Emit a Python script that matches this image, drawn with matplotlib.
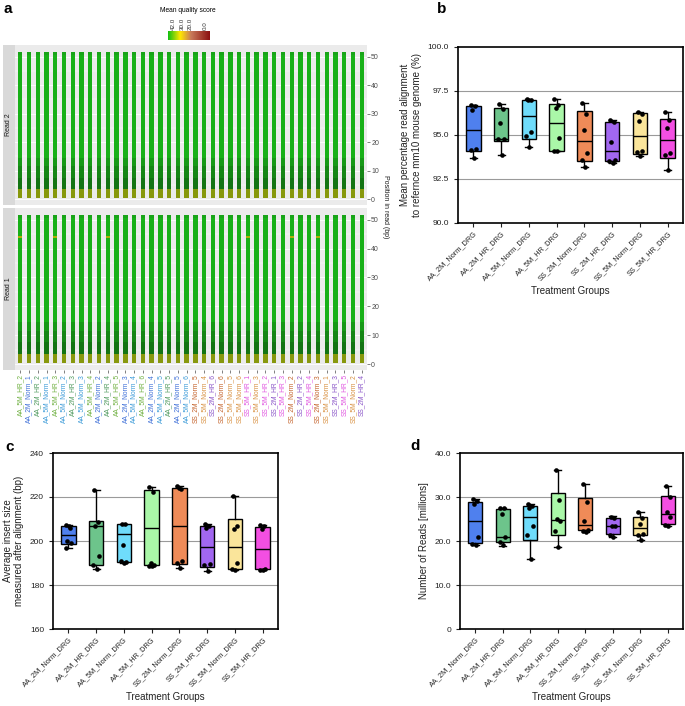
import numpy as np
import matplotlib
matplotlib.use("Agg")
import matplotlib.pyplot as plt
from matplotlib.colors import LinearSegmentedColormap

plt.rcParams['font.family'] = ['Liberation Sans', 'DejaVu Sans']

# --- data ---
groups = ["AA_2M_Norm_DRG", "AA_2M_HR_DRG", "AA_5M_Norm_DRG", "AA_5M_HR_DRG",
          "SS_2M_Norm_DRG", "SS_2M_HR_DRG", "SS_5M_Norm_DRG", "SS_5M_HR_DRG"]
box_colors = ["#4f80ee", "#6dc48b", "#6fdcfb", "#aaf7a8",
              "#ef8b58", "#a267f0", "#fae59b", "#f34fe2"]
label_colors = {"AA_2M_Norm": "#3e6fd8", "AA_2M_HR": "#4f9a5e", "AA_5M_Norm": "#3a9ad8",
                "AA_5M_HR": "#6fb040", "SS_2M_Norm": "#c4622a", "SS_2M_HR": "#8a55c8",
                "SS_5M_Norm": "#d89040", "SS_5M_HR": "#e055e0"}

samples = ["AA_5M_HR_2", "AA_2M_Norm_1", "AA_2M_HR_2", "AA_5M_Norm_1", "AA_5M_HR_3",
           "AA_5M_Norm_2", "AA_2M_HR_3", "AA_5M_Norm_3", "AA_5M_HR_4", "AA_2M_Norm_2",
           "AA_2M_HR_4", "AA_5M_HR_5", "AA_2M_Norm_3", "AA_5M_Norm_4", "AA_5M_HR_6",
           "AA_2M_Norm_4", "AA_5M_Norm_5", "AA_2M_HR_5", "AA_2M_Norm_5", "AA_5M_Norm_6",
           "SS_2M_Norm_5", "SS_5M_Norm_4", "SS_2M_HR_6", "SS_2M_Norm_6", "SS_5M_Norm_5",
           "SS_5M_Norm_6", "SS_5M_HR_1", "SS_5M_Norm_3", "SS_5M_HR_2", "SS_2M_HR_1",
           "SS_5M_HR_3", "SS_2M_Norm_2", "SS_2M_HR_2", "SS_5M_HR_4", "SS_2M_Norm_3",
           "SS_5M_Norm_1", "SS_2M_HR_3", "SS_5M_HR_5", "SS_5M_Norm_2", "SS_2M_HR_4"]

# mean quality per position (1..51)
read2_quality = [33.0, 33.0, 33.0, 35.5, 35.5, 35.5, 35.5, 36.5, 36.5, 36.5,
                 36.5, 38.0, 38.0, 38.0, 40.0, 40.0, 40.0, 40.0, 40.0, 40.0,
                 40.0, 40.0, 40.0, 40.0, 40.0, 40.0, 40.0, 40.0, 40.0, 40.0,
                 40.0, 40.0, 40.0, 40.0, 40.0, 40.0, 40.0, 40.0, 40.0, 40.0,
                 40.0, 40.0, 40.0, 40.0, 40.0, 40.0, 40.0, 40.0, 40.0, 40.0, 39.0]
read1_quality = [33.0, 33.0, 33.0, 35.5, 35.5, 35.5, 35.5, 36.5, 36.5, 36.5,
                 36.5, 38.0, 38.0, 38.0, 40.0, 40.0, 40.0, 40.0, 40.0, 40.0,
                 40.0, 40.0, 40.0, 40.0, 40.0, 40.0, 40.0, 40.0, 40.0, 40.0,
                 40.0, 40.0, 40.0, 40.0, 40.0, 40.0, 40.0, 40.0, 40.0, 40.0,
                 40.0, 40.0, 40.0, 40.0, 40.0, 40.0, 40.0, 40.0, 40.0, 40.0, 39.0]
read1_dip_samples = [0, 4, 10, 26, 31, 34]
read1_dip_position = 44
read1_dip_quality = 32.0

# panel b: alignment %
b_q1 = [94.07, 94.68, 94.77, 94.11, 93.50, 93.54, 93.94, 93.67]
b_med = [95.30, 94.78, 96.06, 95.66, 94.64, 94.11, 94.94, 94.70]
b_q3 = [96.63, 96.52, 97.00, 96.78, 96.36, 95.74, 96.25, 95.93]
b_lo = [93.69, 93.89, 94.30, 94.11, 93.18, 93.39, 93.79, 92.99]
b_hi = [96.70, 96.75, 97.05, 97.05, 96.82, 95.83, 96.33, 96.33]
b_points = [[96.70, 96.63, 96.40, 94.20, 94.17, 93.69],
            [96.75, 96.50, 95.70, 94.80, 94.78, 93.89],
            [97.05, 97.00, 96.98, 95.19, 94.92, 94.30],
            [97.05, 96.72, 96.53, 94.83, 94.11, 94.11],
            [96.82, 96.21, 95.30, 93.98, 93.60, 93.18],
            [95.83, 95.72, 94.60, 93.60, 93.50, 93.39],
            [96.33, 96.21, 95.80, 94.07, 94.02, 93.79],
            [96.33, 95.83, 95.42, 94.00, 93.88, 92.99]]

# panel c: insert size
c_q1 = [198.5, 188.9, 190.5, 189.1, 189.5, 188.3, 187.4, 187.3]
c_med = [202.7, 206.8, 203.0, 206.1, 207.0, 197.4, 197.4, 196.5]
c_q3 = [207.0, 209.2, 207.9, 223.0, 224.1, 206.7, 210.0, 206.4]
c_lo = [196.7, 187.3, 190.0, 188.5, 187.7, 186.2, 186.7, 187.0]
c_hi = [207.3, 223.3, 207.9, 224.4, 224.8, 207.7, 220.6, 207.3]
c_points = [[207.3, 205.9, 199.8, 199.1, 196.7, 207.0],
            [223.3, 208.6, 207.0, 193.0, 188.9, 187.4],
            [207.9, 207.9, 198.3, 190.3, 190.8, 190.0],
            [224.4, 222.3, 190.0, 189.1, 188.8, 188.5],
            [224.8, 223.6, 224.1, 191.1, 190.0, 187.7],
            [207.7, 207.0, 205.9, 189.4, 188.9, 186.2],
            [220.6, 206.7, 205.3, 190.0, 187.4, 186.7],
            [207.3, 206.8, 205.6, 187.3, 187.0, 187.0]]

# panel d: reads (millions)
d_q1 = [19.6, 19.8, 20.2, 21.4, 22.4, 21.6, 21.4, 23.9]
d_med = [24.5, 20.8, 25.5, 24.8, 23.6, 23.5, 22.9, 26.1]
d_q3 = [28.8, 27.3, 27.9, 30.9, 29.7, 25.2, 25.5, 30.3]
d_lo = [19.1, 18.8, 15.9, 18.7, 22.1, 21.0, 20.3, 23.5]
d_hi = [29.6, 27.6, 28.5, 36.1, 32.9, 25.6, 26.5, 32.5]
d_points = [[29.6, 29.0, 28.3, 20.8, 19.4, 19.1],
            [27.6, 27.4, 26.1, 20.8, 19.8, 19.0],
            [28.5, 28.0, 27.4, 23.5, 21.4, 15.9],
            [36.1, 29.3, 25.0, 24.5, 22.2, 18.7],
            [32.9, 28.9, 24.5, 22.4, 22.3, 22.1],
            [25.5, 25.3, 23.5, 23.3, 21.4, 21.0],
            [26.5, 25.3, 23.9, 21.7, 21.4, 20.3],
            [32.5, 30.1, 26.7, 25.4, 23.6, 23.5]]

W, H = 685, 706
fig = plt.figure(figsize=(W / 100, H / 100), dpi=100)


def px_axes(x0, y0, x1, y1):
    return fig.add_axes([x0 / W, 1 - y1 / H, (x1 - x0) / W, (y1 - y0) / H])


# --- panel a ---
qual_cmap = LinearSegmentedColormap.from_list("qual", [
    (0.0, "#7a0d0d"), (20 / 42, "#c86a55"), (30 / 42, "#ffe000"),
    (33 / 42, "#8c9a0c"), (35.5 / 42, "#137313"), (36.5 / 42, "#158515"),
    (38 / 42, "#179817"), (40 / 42, "#18b018"), (1.0, "#12c012")])
bar_cmap = LinearSegmentedColormap.from_list("bar", [
    (0.0, "#12c012"), (0.29, "#ffe800"), (0.55, "#c87a5a"), (1.0, "#8b1010")])

n_samples = len(samples)
positions = np.arange(1, 52)
r1 = np.tile(np.array(read1_quality), (n_samples, 1))
r1[read1_dip_samples, read1_dip_position - 1] = read1_dip_quality
r2 = np.tile(np.array(read2_quality), (n_samples, 1))

for (y0, y1, mat, name, last) in [(45, 205, r2, "Read 2", False), (208, 370, r1, "Read 1", True)]:
    ax = px_axes(15, y0, 367, y1)
    ax.set_facecolor("#ebebeb")
    for y in range(0, 55, 5):
        ax.axhline(y, color="white", lw=0.6 if y % 10 == 0 else 0.3, zorder=0)
    for i in range(n_samples):
        ax.bar(np.full(51, i + 1), np.ones(51), bottom=positions - 0.5, width=0.5,
               color=qual_cmap(mat[i] / 42.0), linewidth=0, zorder=2)
    ax.set_xlim(0.4, n_samples + 0.6)
    ax.set_ylim(-2.05, 54.05)
    for s in ax.spines.values():
        s.set_visible(False)
    ax.yaxis.tick_right()
    ax.set_yticks([0, 10, 20, 30, 40, 50])
    ax.tick_params(axis="y", labelsize=5, colors="#4d4d4d", length=2, width=0.5, pad=1)
    ax.set_xticks(np.arange(1, n_samples + 1))
    if last:
        ax.set_xticklabels(samples, rotation=90, fontsize=4.8)
        for t, s in zip(ax.get_xticklabels(), samples):
            t.set_color(label_colors[s.rsplit("_", 1)[0]])
        ax.tick_params(axis="x", length=2, width=0.5, color="#4d4d4d", pad=1)
    else:
        ax.tick_params(axis="x", length=0, labelbottom=False)
    sax = px_axes(3, y0, 15, y1)
    sax.set_facecolor("#d9d9d9")
    sax.set_xticks([])
    sax.set_yticks([])
    for s in sax.spines.values():
        s.set_visible(False)
    sax.text(0.5, 0.5, name, rotation=90, ha="center", va="center", fontsize=5,
             color="#1a1a1a", transform=sax.transAxes)

fig.text(386 / W, 1 - 207 / H, "Position in read (bp)", rotation=270, ha="center",
         va="center", fontsize=5, color="#1a1a1a")

cax = px_axes(168, 31, 210, 40)
cax.imshow(np.linspace(0, 1, 200)[None, :], aspect="auto", cmap=bar_cmap,
           extent=(48.6, -6.6, 0, 1))
cax.set_xlim(48.6, -6.6)
cax.set_yticks([])
cax.xaxis.tick_top()
cax.set_xticks([42, 30, 20, 0])
cax.set_xticklabels(["42.0", "30.0", "20.0", "0.0"], rotation=90, fontsize=4.5)
cax.tick_params(axis="x", length=0, pad=1, colors="#333333")
for s in cax.spines.values():
    s.set_visible(False)
fig.text(188 / W, 1 - 10 / H, "Mean quality score", ha="center", va="center", fontsize=4.8)

# --- box panels ---
jitter = [-0.08, 0.06, -0.03, 0.09, -0.1, 0.02]


def box_panel(rect, q1, med, q3, lo, hi, pts, ylim, yticks, yticklabels, ylabel, grid):
    ax = px_axes(*rect)
    stats = [dict(med=m, q1=a, q3=b, whislo=l, whishi=h, fliers=[])
             for a, m, b, l, h in zip(q1, med, q3, lo, hi)]
    x = np.arange(1, len(groups) + 1)
    bp = ax.bxp(stats, positions=x, widths=0.52, patch_artist=True, showfliers=False,
                capwidths=0.25,
                boxprops=dict(edgecolor="black", linewidth=1.0),
                medianprops=dict(color="black", linewidth=1.0),
                whiskerprops=dict(color="black", linewidth=1.0),
                capprops=dict(color="black", linewidth=1.0))
    for patch, c in zip(bp["boxes"], box_colors):
        patch.set_facecolor(c)
    for xi, vals in zip(x, pts):
        ax.scatter(xi + np.array(jitter[:len(vals)]), vals, s=11, color="black", zorder=4,
                   linewidths=0)
    for g in grid:
        ax.axhline(g, color="#9a9a9a", lw=0.8, zorder=0)
    ax.set_xlim(0.45, 8.55)
    ax.set_ylim(*ylim)
    ax.set_yticks(yticks)
    ax.set_yticklabels(yticklabels)
    ax.set_xticks(x)
    ax.set_xticklabels(groups, rotation=45, ha="right", rotation_mode="anchor", fontsize=5.3)
    ax.tick_params(axis="y", labelsize=6)
    ax.tick_params(axis="both", colors="#222222", length=3, width=0.8, direction="out")
    ax.tick_params(axis="x", pad=2)
    for s in ax.spines.values():
        s.set_linewidth(1.2)
    ax.set_ylabel(ylabel, fontsize=7, color="#222222", labelpad=4)
    ax.set_xlabel("Treatment Groups", fontsize=7, color="#222222", labelpad=3)
    return ax


box_panel((458, 47, 683, 223), b_q1, b_med, b_q3, b_lo, b_hi, b_points,
          (90, 100), [90, 92.5, 95, 97.5, 100], ["90.0", "92.5", "95.0", "97.5", "100.0"],
          "Mean percentage read alignment\nto refernce mm10 mouse genome (%)", [92.5, 95, 97.5])
box_panel((53, 453, 278, 629), c_q1, c_med, c_q3, c_lo, c_hi, c_points,
          (160, 240), [160, 180, 200, 220, 240], ["160", "180", "200", "220", "240"],
          "Average insert size\nmeasured after alignment (bp)", [180, 200, 220])
box_panel((460, 453, 683, 629), d_q1, d_med, d_q3, d_lo, d_hi, d_points,
          (0, 40), [0, 10, 20, 30, 40], ["0", "10.0", "20.0", "30.0", "40.0"],
          "Number of Reads [millions]", [10, 20, 30])

for lab, x, y in [("a", 3, 9), ("b", 437, 9), ("c", 5, 447), ("d", 410, 446)]:
    fig.text(x / W, 1 - y / H, lab, fontsize=11, fontweight="bold", ha="left", va="center")

fig.savefig("out.png", dpi=100)
